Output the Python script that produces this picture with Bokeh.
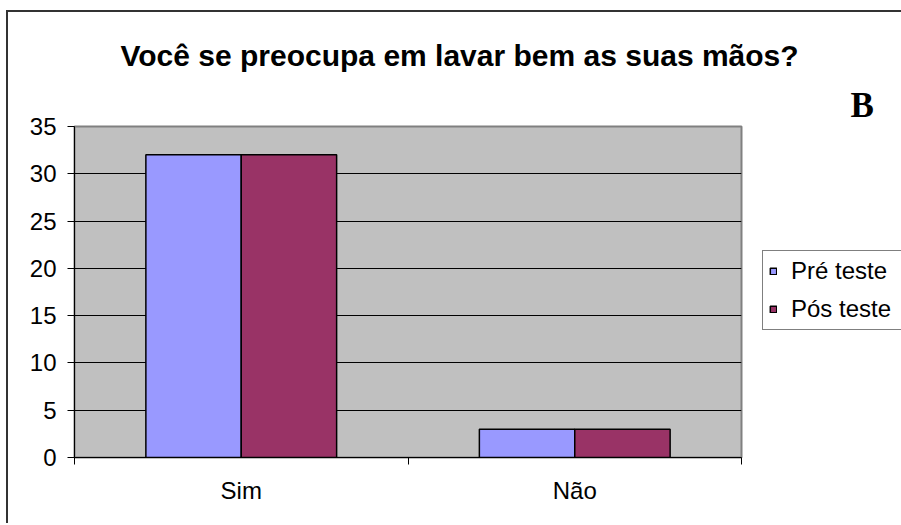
from bokeh.plotting import figure
from bokeh.models import (Range1d, LinearAxis, FixedTicker, Title, Legend, LegendItem,
                          ColumnDataSource)
from bokeh.transform import dodge
from bokeh.embed import file_html
from bokeh.resources import INLINE

title_text = "Você se preocupa em lavar bem as suas mãos?"
corner_label = "B"
categories = ["Sim", "Não"]
series_names = ["Pré teste", "Pós teste"]
pre_teste = [32, 3]
pos_teste = [32, 3]
y_ticks = [0, 5, 10, 15, 20, 25, 30, 35]

FONT = "Liberation Sans"

n = len(categories)
centers = [i + 0.5 for i in range(n)]
src = ColumnDataSource(dict(xc=centers, pre=pre_teste, pos=pos_teste))

p = figure(x_range=Range1d(0, n), y_range=Range1d(0, 35),
           frame_width=667, frame_height=331,
           min_border_left=66, min_border_right=160, min_border_top=114, min_border_bottom=66,
           x_axis_location=None, y_axis_location="left", title=None,
           output_backend="svg", toolbar_location=None,
           background_fill_color="#C0C0C0", border_fill_color="white")
p.styles = {"border-left": "2px solid #333333", "border-top": "2px solid #333333",
            "margin-top": "10px", "margin-left": "6px"}

p.outline_line_color = "#808080"
p.outline_line_width = 2

# grids
p.xgrid.visible = False
p.ygrid.ticker = FixedTicker(ticks=y_ticks[1:-1])
p.ygrid.grid_line_color = "black"
p.ygrid.grid_line_width = 1

# y axis
yax = p.yaxis[0]
yax.ticker = FixedTicker(ticks=y_ticks)
yax.axis_line_color = "black"
yax.major_tick_in = 0
yax.major_tick_out = 7
yax.minor_tick_line_color = None
yax.major_label_text_font = FONT
yax.major_label_text_font_size = "24px"
yax.major_label_text_color = "black"
yax.major_label_standoff = 11

# x axis: boundary ticks without labels
tax = LinearAxis(ticker=FixedTicker(ticks=list(range(n + 1))))
tax.axis_line_color = "black"
tax.major_tick_in = 0
tax.major_tick_out = 7
tax.minor_tick_line_color = None
tax.major_label_text_font_size = "0px"
tax.major_label_text_color = None
tax.major_label_standoff = 0
p.add_layout(tax, "below")

# x axis: category labels at centers
cax = LinearAxis(ticker=FixedTicker(ticks=centers),
                 major_label_overrides={c: lab for c, lab in zip(centers, categories)})
cax.axis_line_color = None
cax.major_tick_line_color = None
cax.minor_tick_line_color = None
cax.major_label_text_font = FONT
cax.major_label_text_font_size = "24px"
cax.major_label_text_color = "black"
cax.major_label_standoff = 6
p.add_layout(cax, "below")

bw = 0.286
r1 = p.vbar(x=dodge("xc", -bw / 2), top="pre", width=bw, source=src,
            fill_color="#9999FF", line_color="black", line_width=1.5)
r2 = p.vbar(x=dodge("xc", bw / 2), top="pos", width=bw, source=src,
            fill_color="#993366", line_color="black", line_width=1.5)

legend = Legend(items=[LegendItem(label=series_names[0], renderers=[r1]),
                       LegendItem(label=series_names[1], renderers=[r2])],
                location=(21, 127))
legend.border_line_color = "black"
legend.border_line_width = 1
legend.background_fill_color = "white"
legend.background_fill_alpha = 1
legend.label_text_font = FONT
legend.label_text_font_size = "24px"
legend.label_text_color = "black"
legend.glyph_width = 8
legend.glyph_height = 8
legend.label_standoff = 14
legend.label_width = 120
legend.padding = 6
legend.spacing = 10
legend.margin = 0
p.add_layout(legend, "right")

# inner title row: corner letter, outer: main title
p.add_layout(Title(text=corner_label, align="left", offset=776, standoff=3,
                   text_font="Liberation Serif", text_font_size="35px",
                   text_font_style="bold", text_color="black"), "above")
p.add_layout(Title(text=title_text, align="left", offset=46, standoff=21,
                   text_font=FONT, text_font_size="30px",
                   text_font_style="bold", text_color="black"), "above")

open("out.html", "w").write(file_html(p, INLINE))
